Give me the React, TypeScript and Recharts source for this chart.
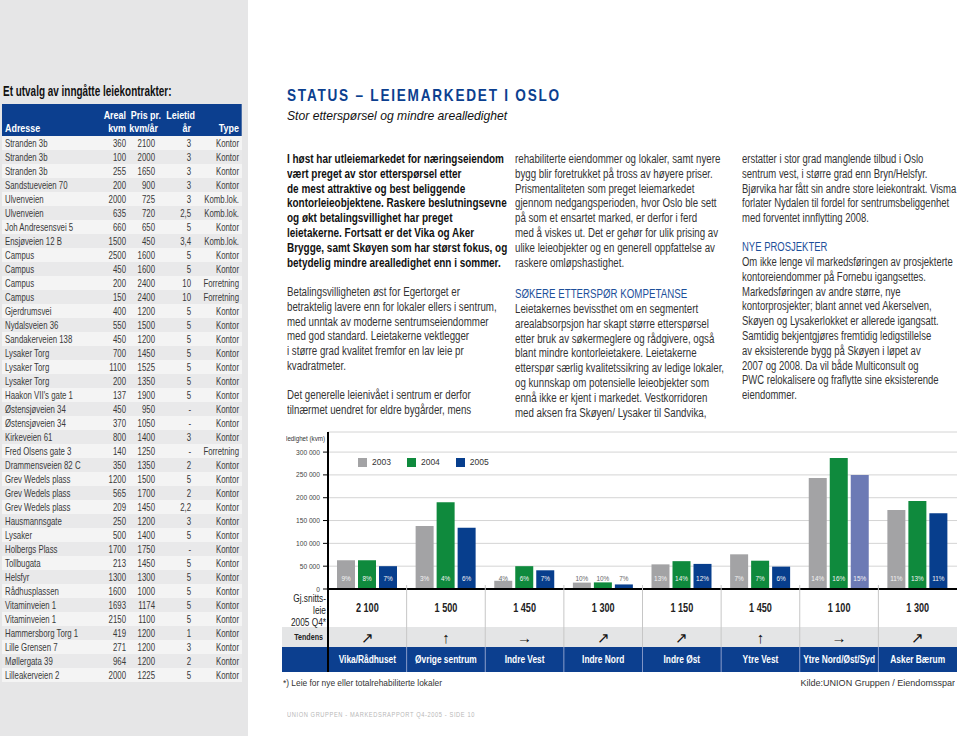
import React from 'react'
import { BarChart, Bar, XAxis, YAxis, CartesianGrid, Legend, LabelList, Cell } from 'recharts'

// --- chart data ---
const areas = ['Vika/Rådhuset', 'Øvrige sentrum', 'Indre Vest', 'Indre Nord', 'Indre Øst', 'Ytre Vest', 'Ytre Nord/Øst/Syd', 'Asker Bærum']
const vacancy2003 = [63000, 138000, 18000, 14000, 54000, 76000, 243000, 173000]
const vacancy2004 = [63000, 190000, 50000, 14500, 61000, 62000, 287000, 193000]
const vacancy2005 = [50000, 134000, 41000, 10000, 55000, 49000, 250000, 166000]
const pct2003 = [9, 3, 4, 10, 13, 7, 14, 11]
const pct2004 = [8, 4, 6, 10, 14, 7, 16, 13]
const pct2005 = [7, 6, 7, 7, 12, 6, 15, 11]
const avgRent = [2100, 1500, 1450, 1300, 1150, 1450, 1100, 1300]
const trend = ['↗', '↑', '→', '↗', '↗', '↑', '→', '↗']
const yTicks = [0, 50000, 100000, 150000, 200000, 250000, 300000]

// --- contracts table ---
const addresses = [
  'Stranden 3b', 'Stranden 3b', 'Stranden 3b', 'Sandstueveien 70', 'Ulvenveien', 'Ulvenveien',
  'Joh Andresensvei 5', 'Ensjøveien 12 B', 'Campus', 'Campus', 'Campus', 'Campus', 'Gjerdrumsvei',
  'Nydalsveien 36', 'Sandakerveien 138', 'Lysaker Torg', 'Lysaker Torg', 'Lysaker Torg',
  "Haakon VII's gate 1", 'Østensjøveien 34', 'Østensjøveien 34', 'Kirkeveien 61', 'Fred Olsens gate 3',
  'Drammensveien 82 C', 'Grev Wedels plass', 'Grev Wedels plass', 'Grev Wedels plass', 'Hausmannsgate',
  'Lysaker', 'Holbergs Plass', 'Tollbugata', 'Helsfyr', 'Rådhusplassen', 'Vitaminveien 1',
  'Vitaminveien 1', 'Hammersborg Torg 1', 'Lille Grensen 7', 'Møllergata 39', 'Lilleakerveien 2',
]
const sizes = [360, 100, 255, 200, 2000, 635, 660, 1500, 2500, 450, 200, 150, 400, 550, 450, 700, 1100, 200, 137, 450, 370, 800, 140, 350, 1200, 565, 209, 250, 500, 1700, 213, 1300, 1600, 1693, 2150, 419, 271, 964, 2000]
const prices = [2100, 2000, 1650, 900, 725, 720, 650, 450, 1600, 1600, 2400, 2400, 1200, 1500, 1200, 1450, 1525, 1350, 1900, 950, 1050, 1400, 1250, 1350, 1500, 1700, 1450, 1200, 1400, 1750, 1450, 1300, 1000, 1174, 1100, 1200, 1200, 1200, 1225]
const terms = ['3', '3', '3', '3', '3', '2,5', '5', '3,4', '5', '5', '10', '10', '5', '5', '5', '5', '5', '5', '5', '-', '-', '3', '-', '2', '5', '2', '2,2', '3', '5', '-', '5', '5', '5', '5', '5', '1', '3', '2', '5']
const types = [
  'Kontor', 'Kontor', 'Kontor', 'Kontor', 'Komb.lok.', 'Komb.lok.', 'Kontor', 'Komb.lok.', 'Kontor', 'Kontor',
  'Forretning', 'Forretning', 'Kontor', 'Kontor', 'Kontor', 'Kontor', 'Kontor', 'Kontor', 'Kontor', 'Kontor',
  'Kontor', 'Kontor', 'Forretning', 'Kontor', 'Kontor', 'Kontor', 'Kontor', 'Kontor', 'Kontor', 'Kontor',
  'Kontor', 'Kontor', 'Kontor', 'Kontor', 'Kontor', 'Kontor', 'Kontor', 'Kontor', 'Kontor',
]

// --- article text ---
const intro = [
  'I høst har utleiemarkedet for næringseiendom',
  'vært preget av stor etterspørsel etter',
  'de mest attraktive og best beliggende',
  'kontorleieobjektene. Raskere beslutningsevne',
  'og økt betalingsvillighet har preget',
  'leietakerne. Fortsatt er det Vika og Aker',
  'Brygge, samt Skøyen som har størst fokus, og',
  'betydelig mindre arealledighet enn i sommer.',
]
const para2 = [
  'Betalingsvilligheten øst for Egertorget er',
  'betraktelig lavere enn for lokaler ellers i sentrum,',
  'med unntak av moderne sentrumseiendommer',
  'med god standard. Leietakerne vektlegger',
  'i større grad kvalitet fremfor en lav leie pr',
  'kvadratmeter.',
]
const para3 = [
  'Det generelle leienivået i sentrum er derfor',
  'tilnærmet uendret for eldre bygårder, mens',
]
const col2a = [
  'rehabiliterte eiendommer og lokaler, samt nyere',
  'bygg blir foretrukket på tross av høyere priser.',
  'Prismentaliteten som preget leiemarkedet',
  'gjennom nedgangsperioden, hvor Oslo ble sett',
  'på som et ensartet marked, er derfor i ferd',
  'med å viskes ut. Det er gehør for ulik prising av',
  'ulike leieobjekter og en generell oppfattelse av',
  'raskere omløpshastighet.',
]
const col2b = [
  'Leietakernes bevissthet om en segmentert',
  'arealabsorpsjon har skapt større etterspørsel',
  'etter bruk av søkermeglere og rådgivere, også',
  'blant mindre kontorleietakere. Leietakerne',
  'etterspør særlig kvalitetssikring av ledige lokaler,',
  'og kunnskap om potensielle leieobjekter som',
  'ennå ikke er kjent i markedet. Vestkorridoren',
  'med aksen fra Skøyen/ Lysaker til Sandvika,',
]
const col3a = [
  'erstatter i stor grad manglende tilbud i Oslo',
  'sentrum vest, i større grad enn Bryn/Helsfyr.',
  'Bjørvika har fått sin andre store leiekontrakt. Visma',
  'forlater Nydalen til fordel for sentrumsbeliggenhet',
  'med forventet innflytting 2008.',
]
const col3b = [
  'Om ikke lenge vil markedsføringen av prosjekterte',
  'kontoreiendommer på Fornebu igangsettes.',
  'Markedsføringen av andre større, nye',
  'kontorprosjekter; blant annet ved Akerselven,',
  'Skøyen og Lysakerlokket er allerede igangsatt.',
  'Samtidig bekjentgjøres fremtidig ledigstillelse',
  'av eksisterende bygg på Skøyen i løpet av',
  '2007 og 2008. Da vil både Multiconsult og',
  'PWC relokalisere og fraflytte sine eksisterende',
  'eiendommer.',
]

// Arial-metric font, squeezed horizontally to imitate a condensed face
const FONT = '"Liberation Sans", Arial, sans-serif'
const NAVY = '#0c3f8f'
const GREY_BAR = '#a3a3a5'
const GREEN_BAR = '#0f8a3d'
const BLUE_BAR = '#073e8d'
const FADED_BLUE = '#6c7ab5'
const FADED_AREA = 'Ytre Nord/Øst/Syd'

const CHART_W = 680
const CHART_H = 245
const Y_W = 48
const M_RIGHT = 3
const BAND = (CHART_W - Y_W - M_RIGHT) / areas.length

const K_TEXT = 0.81
const K_HEAD = 0.85
const K_BODY = 0.71

const chartData = areas.map((area, i) => ({
  area,
  v2003: vacancy2003[i],
  v2004: vacancy2004[i],
  v2005: vacancy2005[i],
  p2003: pct2003[i],
  p2004: pct2004[i],
  p2005: pct2005[i],
}))

const fmt = (n: number) => String(n).replace(/\B(?=(\d{3})+(?!\d))/g, ' ')

// svg text squeezed around its anchor point
const SText = ({ x, y, k, children, ...rest }: any) => (
  <text transform={`translate(${x} ${y}) scale(${k} 1)`} x={0} y={0} fontFamily={FONT} {...rest}>
    {children}
  </text>
)

const TableTick = (props: any) => {
  const { x, y, payload } = props
  const i = payload.index
  const left = x - BAND / 2
  return (
    <g>
      <rect x={left} y={y + 38} width={BAND} height={20} fill="#e4e5e6" />
      <rect x={left} y={y + 58} width={BAND} height={25} fill={NAVY} />
      {i > 0 && <line x1={left} x2={left} y1={y - 4} y2={y + 58} stroke="#c6c6c6" />}
      {i > 0 && <line x1={left} x2={left} y1={y + 58} y2={y + 83} stroke="#8095c6" />}
      <SText x={x} y={y + 23} k={0.76} textAnchor="middle" fontSize={12} fontWeight="bold" fill="#222">
        {fmt(avgRent[i])}
      </SText>
      <SText x={x} y={y + 54} k={1} textAnchor="middle" fontSize={15} fill="#111">
        {trend[i]}
      </SText>
      <SText x={x} y={y + 74} k={0.76} textAnchor="middle" fontSize={11} fontWeight="bold" fill="#fff">
        {areas[i]}
      </SText>
    </g>
  )
}

const ValueTick = (props: any) => {
  const { x, y, payload } = props
  return (
    <SText x={x} y={y + 2.5} k={0.83} textAnchor="end" fontSize={8} fill="#444">
      {fmt(payload.value)}
    </SText>
  )
}

const PctLabel = (props: any) => {
  const vb = props.viewBox ?? props
  const { x, y, width, height } = vb
  const inside = height > 15
  return (
    <SText x={x + width / 2} y={y + height - 8} k={0.8} textAnchor="middle" fontSize={8} fill={inside ? '#f4f4f4' : '#666'}>
      {props.value}%
    </SText>
  )
}

const renderLegend = (props: any) => (
  <div style={{ display: 'flex', fontFamily: FONT, fontSize: 8.5, color: '#333' }}>
    {(props.payload || []).map((p: any) => (
      <div key={p.value} style={{ display: 'flex', alignItems: 'center', marginRight: 16 }}>
        <span style={{ width: 9, height: 9, background: p.color, marginRight: 5, display: 'inline-block' }} />
        {p.value}
      </div>
    ))}
  </div>
)

const VacancyChart = () => (
  <BarChart
    width={CHART_W}
    height={CHART_H}
    data={chartData}
    margin={{ top: 2, right: M_RIGHT, bottom: 3, left: 0 }}
    barCategoryGap={9}
    barGap={3}
  >
    <CartesianGrid vertical={false} stroke="#d4d4d4" />
    <XAxis
      dataKey="area"
      height={83}
      interval={0}
      tickLine={false}
      tickSize={0}
      tickMargin={0}
      axisLine={{ stroke: '#000', strokeWidth: 2 }}
      tick={<TableTick />}
    />
    <YAxis
      width={Y_W}
      domain={[0, 344000]}
      ticks={yTicks}
      interval={0}
      tickSize={5}
      tickMargin={3}
      tickLine={{ stroke: '#000' }}
      axisLine={{ stroke: '#000', strokeWidth: 2 }}
      tick={<ValueTick />}
    />
    <Legend
      layout="horizontal"
      verticalAlign="middle"
      align="center"
      content={renderLegend}
      wrapperStyle={{ top: 27, left: 78, width: 'auto', height: 'auto' }}
    />
    <Bar dataKey="v2003" name="2003" fill={GREY_BAR} isAnimationActive={false}>
      <LabelList dataKey="p2003" content={<PctLabel />} />
    </Bar>
    <Bar dataKey="v2004" name="2004" fill={GREEN_BAR} isAnimationActive={false}>
      <LabelList dataKey="p2004" content={<PctLabel />} />
    </Bar>
    <Bar dataKey="v2005" name="2005" fill={BLUE_BAR} isAnimationActive={false}>
      {areas.map((a) => (
        <Cell key={a} fill={a === FADED_AREA ? FADED_BLUE : BLUE_BAR} />
      ))}
      <LabelList dataKey="p2005" content={<PctLabel />} />
    </Bar>
  </BarChart>
)

const abs = (top: number, left: number, extra: React.CSSProperties = {}): React.CSSProperties => ({
  position: 'absolute',
  top,
  left,
  ...extra,
})

const squeeze = (k: number, origin = 'left'): React.CSSProperties => ({
  transform: `scaleX(${k})`,
  transformOrigin: `${origin} top`,
})

const Lines = ({ lines, top, left, bold, color, k }: { lines: string[]; top: number; left: number; bold?: boolean; color?: string; k?: number }) => (
  <div
    style={{
      position: 'absolute',
      top,
      left,
      fontSize: 12,
      lineHeight: '14.8px',
      fontWeight: bold ? 'bold' : 'normal',
      color: color ?? '#333',
      whiteSpace: 'nowrap',
      ...squeeze(k ?? (bold ? 0.83 : K_TEXT)),
    }}
  >
    {lines.map((l, i) => (
      <div key={i}>{l}</div>
    ))}
  </div>
)

// right-aligned cell inside a squeezed table row (px are final page pixels)
const cellR = (px: number, k: number): React.CSSProperties => ({ position: 'absolute', top: 0, right: px / k })

export default function App() {
  return (
    <div
      style={{
        position: 'absolute',
        left: 0,
        top: 0,
        width: 960,
        height: 736,
        background: '#fff',
        fontFamily: FONT,
        overflow: 'hidden',
      }}
    >
      {/* left panel with contracts */}
      <div style={abs(0, 0, { width: 248, height: 736, background: '#e6e6e7' })} />
      <div style={abs(83, 3, { fontSize: 14, fontWeight: 'bold', color: '#111', whiteSpace: 'nowrap', ...squeeze(0.71) })}>
        Et utvalg av inngåtte leiekontrakter:
      </div>
      <div
        style={abs(104, 2, {
          width: 240 / K_HEAD,
          height: 32,
          background: NAVY,
          color: '#fff',
          fontWeight: 'bold',
          fontSize: 10.5,
          lineHeight: '13px',
          ...squeeze(K_HEAD),
        })}
      >
        <div style={{ ...cellR(116, K_HEAD), top: 5 }}>Areal</div>
        <div style={{ ...cellR(116, K_HEAD), top: 18 }}>kvm</div>
        <div style={{ ...cellR(81, K_HEAD), top: 5 }}>Pris pr.</div>
        <div style={{ ...cellR(84, K_HEAD), top: 18 }}>kvm/år</div>
        <div style={{ ...cellR(47, K_HEAD), top: 5 }}>Leietid</div>
        <div style={{ ...cellR(51, K_HEAD), top: 18 }}>år</div>
        <div style={{ position: 'absolute', top: 18, left: 3 / K_HEAD }}>Adresse</div>
        <div style={{ ...cellR(3, K_HEAD), top: 18 }}>Type</div>
      </div>
      <div style={abs(136, 2, { width: 240 / K_BODY, height: addresses.length * 14, ...squeeze(K_BODY) })}>
        {addresses.map((a, i) => (
          <div
            key={i}
            style={abs(i * 14, 0, {
              width: '100%',
              height: 14,
              background: i % 2 === 0 ? '#f4f4f4' : '#e9e9ea',
              fontSize: 11,
              lineHeight: '14px',
              color: '#3a3a3a',
              whiteSpace: 'nowrap',
            })}
          >
            <span style={{ position: 'absolute', top: 0, left: 3 / K_BODY }}>{a}</span>
            <span style={cellR(116, K_BODY)}>{sizes[i]}</span>
            <span style={cellR(87, K_BODY)}>{prices[i]}</span>
            <span style={cellR(51, K_BODY)}>{terms[i]}</span>
            <span style={cellR(3, K_BODY)}>{types[i]}</span>
          </div>
        ))}
      </div>

      {/* heading */}
      <div style={abs(86, 287, { fontSize: 17, fontWeight: 'bold', color: NAVY, letterSpacing: 2.2, whiteSpace: 'nowrap', ...squeeze(0.8) })}>
        STATUS – LEIEMARKEDET I OSLO
      </div>
      <div style={abs(108, 287, { fontSize: 13.5, fontStyle: 'italic', color: '#111', whiteSpace: 'nowrap', ...squeeze(0.9) })}>
        Stor etterspørsel og mindre arealledighet
      </div>

      {/* article columns */}
      <Lines lines={intro} top={152} left={287} bold color="#111" />
      <Lines lines={para2} top={285} left={287} />
      <Lines lines={para3} top={388} left={287} />
      <Lines lines={col2a} top={152} left={515} />
      <Lines lines={['SØKERE ETTERSPØR KOMPETANSE']} top={287} left={515} color="#1d4f9a" />
      <Lines lines={col2b} top={302} left={515} />
      <Lines lines={col3a} top={152} left={742} k={0.79} />
      <Lines lines={['NYE PROSJEKTER']} top={240} left={742} color="#1d4f9a" k={0.79} />
      <Lines lines={col3b} top={255} left={742} k={0.79} />

      {/* chart */}
      <div style={abs(627, 282, { width: 46, height: 20, background: '#e4e5e6' })} />
      <div style={abs(647, 282, { width: 46, height: 25, background: NAVY })} />
      <div style={abs(430, 280)}>
        <VacancyChart />
      </div>
      <div style={abs(434, 286, { fontSize: 7.5, color: '#333', whiteSpace: 'nowrap', ...squeeze(0.83) })}>ledighet (kvm)</div>
      <div
        style={abs(593, 276, {
          width: 50,
          textAlign: 'right',
          fontSize: 10,
          lineHeight: '11.8px',
          color: '#222',
          ...squeeze(0.83, 'right'),
        })}
      >
        Gj.snitts-
        <br />
        leie
        <br />
        2005 Q4*
      </div>
      <div style={abs(631, 273, { width: 50, textAlign: 'right', fontSize: 9.5, fontWeight: 'bold', color: '#222', ...squeeze(0.75, 'right') })}>
        Tendens
      </div>
      <div style={abs(589, 327, { width: 2, height: 83, background: '#000' })} />

      <div style={abs(677, 283, { fontSize: 9.5, color: '#333', whiteSpace: 'nowrap', ...squeeze(0.88) })}>
        *) Leie for nye eller totalrehabiliterte lokaler
      </div>
      <div style={abs(677, 655, { width: 300, textAlign: 'right', fontSize: 9.5, color: '#333', whiteSpace: 'nowrap', ...squeeze(0.95, 'right') })}>
        Kilde:UNION Gruppen / Eiendomsspar
      </div>

      <div style={abs(710, 287, { fontSize: 7.5, color: '#b8b8b8', letterSpacing: 0.8, whiteSpace: 'nowrap', ...squeeze(0.76) })}>
        UNION GRUPPEN - MARKEDSRAPPORT Q4-2005 - SIDE 10
      </div>
    </div>
  )
}
